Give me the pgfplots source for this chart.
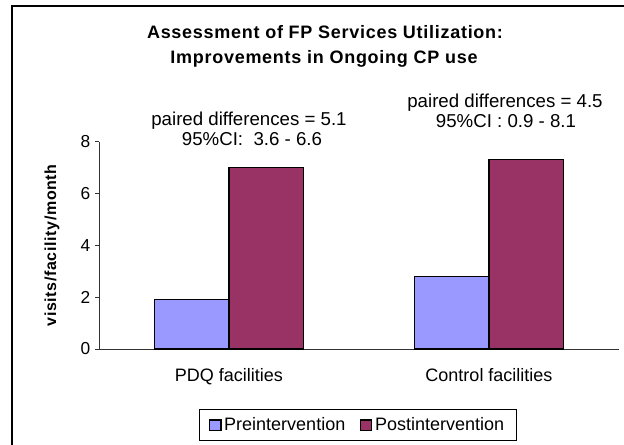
\documentclass[border=0pt]{standalone}
\usepackage{fontspec}
\setmainfont{Liberation Sans}
\newfontfamily\titlefont[LetterSpace=4]{Liberation Sans}
\newfontfamily\labfont[LetterSpace=4]{Liberation Sans}
\usepackage{pgfplots}
\pgfplotsset{compat=1.18}
\definecolor{pre}{HTML}{9999FF}
\definecolor{post}{HTML}{993366}
\begin{document}
\begin{tikzpicture}
\useasboundingbox (0pt,0pt) rectangle (468pt,-333.75pt);
\begin{scope}[x=0.75pt,y=-0.75pt]
\draw[line width=1.1pt,line cap=rect] (12,446) -- (12,6) -- (625,6);
\node[anchor=base,inner sep=0pt] at (325,39) {\titlefont\fontsize{13.5pt}{16pt}\selectfont\bfseries Assessment of FP Services Utilization:};
\node[anchor=base,inner sep=0pt] at (324,64) {\titlefont\fontsize{13.5pt}{16pt}\selectfont\bfseries Improvements in Ongoing CP use};
\node[anchor=base,inner sep=0pt] at (249,126) {\fontsize{14pt}{16pt}\selectfont paired differences = 5.1};
\node[anchor=base,inner sep=0pt] at (252,146) {\fontsize{14pt}{16pt}\selectfont 95\%CI:\ \ 3.6 - 6.6};
\node[anchor=base,inner sep=0pt] at (505,108) {\fontsize{14pt}{16pt}\selectfont paired differences = 4.5};
\node[anchor=base,inner sep=0pt] at (506,128) {\fontsize{14pt}{16pt}\selectfont 95\%CI : 0.9 - 8.1};
\end{scope}
\begin{axis}[
  at={(74.25pt,-261.75pt)}, anchor=south west,
  scale only axis, width=390pt, height=155.5pt,
  xmin=-0.5, xmax=1.5, ymin=0, ymax=8,
  axis x line*=bottom, axis y line*=left,
  axis line style={-, black!80, line width=0.6pt},
  ybar=0pt, bar width=56pt,
  xtick={0,1}, xticklabels={PDQ facilities, Control facilities},
  xtick style={draw=none},
  extra x ticks={-0.5,0.5,1.5}, extra x tick labels={},
  extra x tick style={tick style={draw=black!80, line width=0.6pt}, major tick length=3pt},
  xticklabel style={font=\fontsize{13.5pt}{16pt}\selectfont, yshift=-8pt},
  ytick={0,2,4,6,8},
  ytick style={black!80, line width=0.6pt},
  tick align=outside, major tick length=3pt,
  yticklabel style={font=\fontsize{13pt}{15pt}\selectfont},
  /pgf/number format/assume math mode=true,
  ylabel={\labfont\bfseries visits/facility/month},
  ylabel style={font=\fontsize{12pt}{14pt}\selectfont, at={(axis description cs:-0.0904,0.5)}, anchor=center},
  legend columns=2,
  legend style={at={(axis description cs:0.498,-0.367)}, anchor=center, draw=black, line width=0.8pt,
    font=\fontsize{13.5pt}{16pt}\selectfont, /tikz/every even column/.append style={column sep=9pt},
    inner xsep=7pt, inner ysep=4pt},
  legend image code/.code={\draw[#1, line width=0.8pt] (0pt,-3.8pt) rectangle (8.5pt,3.8pt);},
]
\addplot[fill=pre, draw=black, line width=0.8pt] coordinates {(0,1.92) (1,2.78)};
\addplot[fill=post, draw=black, line width=0.8pt] coordinates {(0,7.0) (1,7.3)};
\legend{Preintervention, Postintervention}
\end{axis}
\end{tikzpicture}
\end{document}
